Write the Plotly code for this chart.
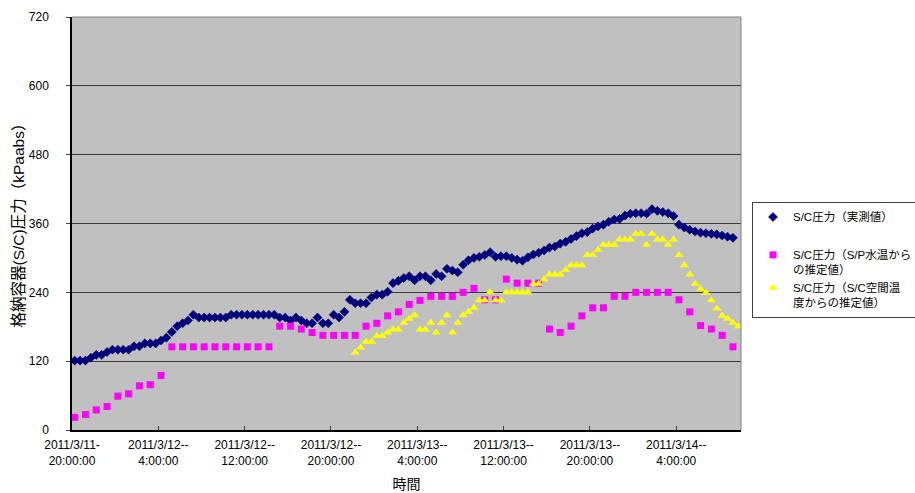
import pandas as pd
import plotly.graph_objects as go

# Half-hour sampling slots starting at 2011/3/11 20:15
slots = pd.date_range("2011-03-11 20:15", periods=124, freq="30min")

# S/C pressure, measured (kPa abs), one value per half-hour slot
measured = [
    121, 121, 121, 126, 131, 131, 136, 140, 140, 140,
    140, 146, 146, 151, 151, 151, 156, 161, 171, 181,
    186, 191, 201, 196, 196, 196, 196, 196, 196, 201,
    201, 201, 201, 201, 201, 201, 201, 201, 196, 196,
    191, 196, 191, 186, 186, 196, 186, 186, 201, 196,
    206, 227, 221, 221, 221, 231, 236, 236, 241, 256,
    260, 265, 268, 261, 268, 268, 261, 272, 268, 281,
    278, 275, 288, 296, 300, 302, 305, 310, 302, 303,
    303, 300, 297, 295, 301, 306, 309, 313, 318, 320,
    325, 328, 333, 338, 343, 345, 351, 355, 358, 363,
    367, 368, 374, 377, 378, 378, 377, 385, 382, 380,
    378, 373, 358, 353, 349, 346, 344, 343, 342, 341,
    339, 337, 335,
]

# S/C pressure estimated from S/P water temperature (hourly)
est_sp_water = [
    22, 27, 35, 41, 59, 63, 77, 79, 95, 145,
    145, 145, 145, 145, 145, 145, 145, 145, 145, 181,
    181, 176, 170, 165, 165, 165, 165, 181, 186, 199,
    206, 219, 226, 233, 233, 233, 240, 247, 227, 227,
    263, 256, 256, 256, 176, 170, 181, 199, 213, 213,
    233, 233, 240, 240, 240, 240, 227, 206, 182, 176,
    165, 145,
]

# S/C pressure estimated from S/C air-space temperature (half-hourly, from 3/12 22:15)
est_sc_air = [
    135, 144, 154, 154, 164, 164, 170, 175, 175, 187,
    194, 200, 175, 175, 187, 170, 187, 200, 170, 187,
    200, 206, 213, 226, 226, 240, 226, 226, 240, 240,
    240, 240, 240, 255, 255, 263, 271, 271, 271, 279,
    287, 287, 287, 305, 305, 314, 323, 323, 323, 332,
    332, 332, 342, 342, 323, 342, 332, 332, 323, 332,
    305, 287, 271, 255, 246, 239, 226, 212, 199, 194,
    187, 181,
]

measured_t = slots[:len(measured)]
sp_water_t = slots[0::2][:len(est_sp_water)]
sc_air_t = slots[52:52 + len(est_sc_air)]

tick_times = pd.date_range("2011-03-11 20:00", periods=8, freq="8h")
tick_dates = ["2011/3/11-", "2011/3/12--", "2011/3/12--", "2011/3/12--",
              "2011/3/13--", "2011/3/13--", "2011/3/13--", "2011/3/14--"]
tick_clock = ["20:00:00", "4:00:00", "12:00:00", "20:00:00",
              "4:00:00", "12:00:00", "20:00:00", "4:00:00"]

y_ticks = [0, 120, 240, 360, 480, 600, 720]

x_range = ["2011-03-11 20:00", "2011-03-14 10:00"]
FONT = "Liberation Sans, Arial, 'Noto Sans CJK JP', sans-serif"

fig = go.Figure()
fig.add_trace(go.Scatter(
    x=measured_t, y=measured, mode="markers",
    name="S/C圧力（実測値）<br> ", legendgroup="measured",
    marker=dict(symbol="diamond", size=7, color="#000080",
                line=dict(width=0.5, color="#000060")),
))
fig.add_trace(go.Scatter(
    x=sp_water_t, y=est_sp_water, mode="markers",
    name="S/C圧力（S/P水温から<br>の推定値）", legendgroup="estimated",
    marker=dict(symbol="square", size=7, color="#FF00FF", line=dict(width=0)),
))
fig.add_trace(go.Scatter(
    x=sc_air_t, y=est_sc_air, mode="markers",
    name="S/C圧力（S/C空間温<br>度からの推定値）", legendgroup="estimated",
    marker=dict(symbol="triangle-up", size=8, color="#FFFF00", line=dict(width=0)),
))
# carrier for the second row of time labels
fig.add_trace(go.Scatter(
    x=[measured_t[0]], y=[None], xaxis="x2", mode="markers",
    showlegend=False, hoverinfo="skip",
))

fig.update_layout(
    width=915, height=493,
    margin=dict(l=72, r=174, t=17, b=63),
    paper_bgcolor="white",
    plot_bgcolor="#C0C0C0",
    font=dict(family=FONT, size=12, color="black"),
    showlegend=True,
    legend=dict(
        xref="container", yref="container",
        x=752 / 915, y=1 - 202 / 493, xanchor="left", yanchor="top",
        bgcolor="white", bordercolor="#404040", borderwidth=1,
        font=dict(family=FONT, size=11.5, color="black"),
        valign="top", tracegroupgap=5, itemwidth=30,
    ),
    xaxis=dict(
        type="date", range=x_range,
        tickmode="array", tickvals=tick_times, ticktext=tick_dates,
        ticks="inside", ticklen=4, tickcolor="#404040",
        showline=True, linecolor="black", linewidth=1.5,
        showgrid=False, zeroline=False,
        tickfont=dict(size=12), ticklabelstandoff=3,
        automargin=False,
    ),
    xaxis2=dict(
        type="date", range=x_range, overlaying="x", anchor="y", side="bottom",
        tickmode="array", tickvals=tick_times, ticktext=tick_clock,
        ticks="", showline=False, showgrid=False, zeroline=False,
        tickfont=dict(size=12), ticklabelstandoff=22,
        title=dict(text="時間", font=dict(size=14), standoff=12),
        automargin=False,
    ),
    yaxis=dict(
        range=[0, 720], tickmode="array", tickvals=y_ticks,
        ticks="outside", ticklen=4, tickcolor="#404040",
        showline=True, linecolor="black", linewidth=1.5,
        showgrid=True, gridcolor="#3A3A3A", gridwidth=1,
        zeroline=False, tickfont=dict(size=12), ticklabelstandoff=15,
        automargin=False,
    ),
    annotations=[
        dict(text="格納容器(S/C)圧力（kPaabs）", xref="paper", yref="paper",
             x=(18 - 72) / 669, y=0.505, xanchor="center", yanchor="middle",
             textangle=-90, showarrow=False, font=dict(size=15.5)),
    ],
    shapes=[
        dict(type="line", xref="x domain", yref="y domain", x0=1, x1=1, y0=0, y1=1,
             line=dict(color="#808080", width=1)),
        dict(type="line", xref="x domain", yref="y domain", x0=0, x1=1, y0=1, y1=1,
             line=dict(color="#808080", width=1)),
    ],
)

fig.write_html("out.html")
